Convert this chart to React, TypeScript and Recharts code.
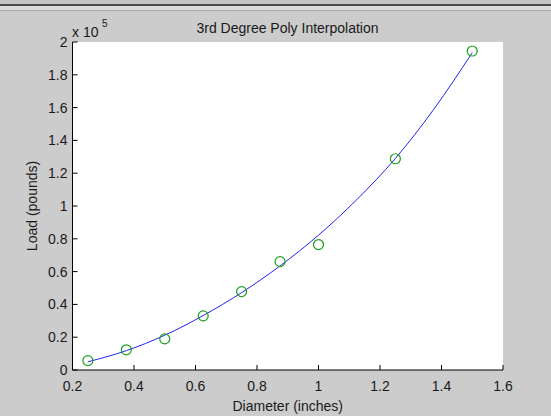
import {
  ComposedChart,
  Line,
  Scatter,
  XAxis,
  YAxis,
  CartesianGrid,
} from 'recharts';

// measured points (green circles)
const diameters = [0.25, 0.375, 0.5, 0.625, 0.75, 0.875, 1.0, 1.25, 1.5];
const loads = [5700, 12300, 19000, 33000, 47800, 66100, 76500, 128800, 194500];

// cubic fit curve
const fitDiameters = [0.25, 0.375, 0.5, 0.625, 0.75, 0.875, 1.0, 1.125, 1.25, 1.375, 1.5];
const fitLoads = [5000, 11800, 21200, 33200, 47200, 63500, 82200, 104000, 129000, 159000, 193500];

const xTicks = [0.2, 0.4, 0.6, 0.8, 1, 1.2, 1.4, 1.6];
const yTicks = [0, 20000, 40000, 60000, 80000, 100000, 120000, 140000, 160000, 180000, 200000];

const FONT = '"Liberation Sans", Arial, sans-serif';
const TEXT = '#1a1a1a';

const points = diameters.map((d, i) => ({ d, load: loads[i] }));
const curve = fitDiameters.map((d, i) => ({ d, load: fitLoads[i] }));

function Circle(props: any) {
  const { cx, cy } = props;
  if (cx == null || cy == null) return <g />;
  return <circle cx={cx} cy={cy} r={5} fill="none" stroke="#1e9e1e" strokeWidth={1.2} />;
}

function YLabel(props: any) {
  const vb = props.viewBox || { x: 0, y: 42, width: 72, height: 328 };
  const cx = 32;
  const cy = vb.y + vb.height / 2;
  return (
    <text
      x={cx}
      y={cy}
      transform={`rotate(-90, ${cx}, ${cy})`}
      textAnchor="middle"
      dy="0.35em"
      fontSize={14}
      fontFamily={FONT}
      fill={TEXT}
    >
      Load (pounds)
    </text>
  );
}

export default function App() {
  const tickStyle = { fontSize: 14, fill: TEXT, fontFamily: FONT };
  return (
    <div
      style={{
        position: 'absolute',
        left: 0,
        top: 0,
        width: 551,
        height: 416,
        background: '#cccccc',
        overflow: 'hidden',
      }}
    >
      {/* window strip at the top */}
      <div style={{ position: 'absolute', left: 0, top: 0, width: 551, height: 4, background: '#c4c4c4' }} />
      <div style={{ position: 'absolute', left: 0, top: 4, width: 551, height: 2, background: '#4a4a4a' }} />
      <div style={{ position: 'absolute', left: 0, top: 6, width: 551, height: 4, background: '#dadada' }} />
      <div style={{ position: 'absolute', left: 0, top: 10, width: 551, height: 1, background: '#a8a8a8' }} />

      <ComposedChart
        width={551}
        height={416}
        margin={{ top: 42, right: 48, bottom: 0, left: 0 }}
        style={{ position: 'absolute', left: 0, top: 0, fontFamily: FONT }}
      >
        <CartesianGrid horizontal={false} vertical={false} fill="#ffffff" fillOpacity={1} stroke="none" />
        <XAxis
          dataKey="d"
          type="number"
          domain={[0.2, 1.6]}
          ticks={xTicks}
          height={46}
          tickSize={-5}
          tickMargin={16}
          axisLine={{ stroke: '#000' }}
          tickLine={{ stroke: '#000' }}
          tick={tickStyle}
          label={{
            value: 'Diameter (inches)',
            position: 'insideBottom',
            offset: 5,
            style: { fontSize: 14, fill: TEXT, fontFamily: FONT },
          }}
        />
        <XAxis
          xAxisId="top"
          orientation="top"
          dataKey="d"
          type="number"
          domain={[0.2, 1.6]}
          ticks={xTicks}
          height={0}
          tickSize={-5}
          axisLine={{ stroke: '#000' }}
          tickLine={{ stroke: '#000' }}
          tick={false}
        />
        <YAxis
          type="number"
          domain={[0, 200000]}
          ticks={yTicks}
          width={72.5}
          tickSize={-5}
          tickMargin={10}
          axisLine={{ stroke: '#000' }}
          tickLine={{ stroke: '#000' }}
          tick={tickStyle}
          tickFormatter={(v: number) => String(v / 100000)}
          label={<YLabel />}
        />
        <YAxis
          yAxisId="right"
          orientation="right"
          type="number"
          domain={[0, 200000]}
          ticks={yTicks}
          width={0}
          tickSize={-5}
          axisLine={{ stroke: '#000' }}
          tickLine={{ stroke: '#000' }}
          tick={false}
        />
        <Line
          data={curve}
          dataKey="load"
          type="monotone"
          stroke="#2222ee"
          strokeWidth={1}
          dot={false}
          activeDot={false}
          isAnimationActive={false}
        />
        <Scatter data={points} dataKey="load" shape={<Circle />} isAnimationActive={false} />
      </ComposedChart>

      <svg
        width={551}
        height={416}
        style={{ position: 'absolute', left: 0, top: 0, pointerEvents: 'none' }}
      >
        <text x={287.5} y={33} textAnchor="middle" fontSize={14} fontFamily={FONT} fill={TEXT}>
          3rd Degree Poly Interpolation
        </text>
        <text x={72} y={37} fontSize={14} fontFamily={FONT} fill={TEXT}>
          x 10
        </text>
        <text x={102} y={27} fontSize={10} fontFamily={FONT} fill={TEXT}>
          5
        </text>
      </svg>
    </div>
  );
}
